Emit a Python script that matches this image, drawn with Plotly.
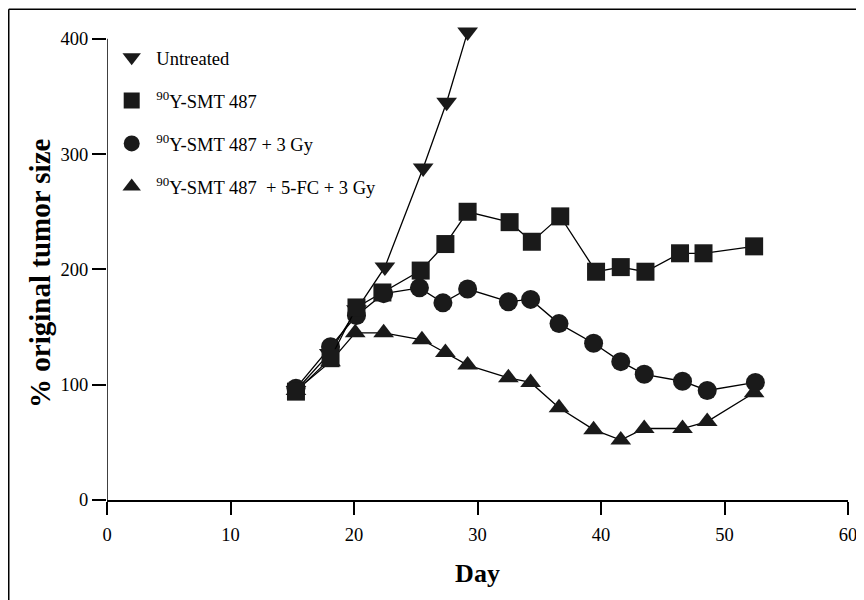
import plotly.graph_objects as go

# Untreated
untreated_day = [15.3, 18.0, 20.2, 22.5, 25.6, 27.5, 29.2]
untreated_val = [95, 127, 165, 202, 288, 345, 406]

# 90Y-SMT 487
smt_day = [15.3, 18.1, 20.2, 22.3, 25.4, 27.4, 29.2, 32.6, 34.4, 36.7, 39.6, 41.6, 43.6, 46.4, 48.3, 52.4]
smt_val = [94, 123, 167, 180, 199, 222, 250, 241, 224, 246, 198, 202, 198, 214, 214, 220]

# 90Y-SMT 487 + 3 Gy
gy_day = [15.3, 18.1, 20.2, 22.4, 25.3, 27.2, 29.2, 32.5, 34.3, 36.6, 39.4, 41.6, 43.5, 46.6, 48.6, 52.5]
gy_val = [97, 133, 160, 179, 184, 171, 183, 172, 174, 153, 136, 120, 109, 103, 95, 102]

# 90Y-SMT 487 + 5-FC + 3 Gy
fc_day = [15.3, 18.1, 20.1, 22.4, 25.5, 27.4, 29.2, 32.5, 34.3, 36.6, 39.4, 41.6, 43.5, 46.6, 48.6, 52.4]
fc_val = [95, 120, 145, 145, 139, 128, 117, 106, 102, 80, 61, 52, 62, 62, 68, 93]

names = ["Untreated", "<sup>90</sup>Y-SMT 487", "<sup>90</sup>Y-SMT 487 + 3 Gy",
         "<sup>90</sup>Y-SMT 487  + 5-FC + 3 Gy"]
symbols = ["triangle-down", "square", "circle", "triangle-up"]
x_ticks = [0, 10, 20, 30, 40, 50, 60]
y_ticks = [0, 100, 200, 300, 400]
x_title = "Day"
y_title = "% original tumor size"

FONT = "Liberation Serif"
MK = "#1a1a1a"
fig = go.Figure()

def add(x, y, symbol, size):
    fig.add_trace(go.Scatter(
        x=x, y=y, mode="lines+markers", showlegend=False,
        line=dict(color="black", width=1.3),
        marker=dict(symbol=symbol, size=size, color=MK, line=dict(width=0)),
        cliponaxis=False))

add(untreated_day, untreated_val, "triangle-down", 18)
add(fc_day, fc_val, "triangle-up", 18)
add(gy_day, gy_val, "circle", 19)
add(smt_day, smt_val, "square", 18)

# legend entries (markers only)
for i, (nm, sym) in enumerate(zip(names, symbols)):
    fig.add_trace(go.Scatter(
        x=[None], y=[None], mode="markers", name=" " + nm, legendgroup=nm, legendrank=i + 1,
        marker=dict(symbol=sym, size=18, color=MK, line=dict(width=0))))

# figure-pixel geometry (page is offset by the 8px body margin)
L, R, T, B = 99, 24, 17.17, 108
PH = 600 - T - B
PW = 864 - L - R

fig.update_layout(
    width=864, height=600,
    margin=dict(l=L, r=R, t=T, b=B),
    paper_bgcolor="white", plot_bgcolor="white",
    font=dict(family=FONT, size=18, color="black"),
    showlegend=True,
    legend=dict(x=(103.7 - L) / PW, y=(492 - 31) / PH, xanchor="left", yanchor="top",
                bgcolor="rgba(0,0,0,0)", tracegroupgap=16,
                font=dict(family=FONT, size=18.5, color="black"),
                itemsizing="trace"),
    xaxis=dict(range=[0, 60], tickvals=x_ticks, showgrid=False, zeroline=False,
               showline=True, linecolor="black", linewidth=1.5,
               ticks="outside", ticklen=13, tickwidth=1.5, tickcolor="black",
               tickfont=dict(family=FONT, size=18.5), ticklabelstandoff=4,
               title=dict(text="<b>" + x_title + "</b>", font=dict(family=FONT, size=26), standoff=20)),
    yaxis=dict(range=[0, 412], tickvals=y_ticks, showgrid=False, zeroline=False,
               showline=False,
               ticks="outside", ticklen=14, tickwidth=1.5, tickcolor="black",
               tickfont=dict(family=FONT, size=18.5), ticklabelstandoff=0),
)

# y-axis title as annotation (centered like the reference)
fig.add_annotation(text="<b>" + y_title + "</b>", textangle=-90, showarrow=False,
                   xref="paper", yref="paper", x=(32 - L) / PW, y=(492 - 266) / PH,
                   xanchor="center", yanchor="middle",
                   font=dict(family=FONT, size=29, color="black"))

# y axis line ending at 400
fig.add_shape(type="line", xref="x", yref="y", x0=0, x1=0, y0=0, y1=400,
              line=dict(color="black", width=1.5))

# image frame (top and left edges)
top_y = (492 - 1.5) / PH
left_x = (0.75 - L) / PW
fig.add_shape(type="line", xref="paper", yref="paper",
              x0=left_x, x1=(864 - L) / PW, y0=top_y, y1=top_y,
              line=dict(color="black", width=1.5))
fig.add_shape(type="line", xref="paper", yref="paper",
              x0=left_x, x1=left_x, y0=top_y, y1=-B / PH,
              line=dict(color="black", width=1.5))

fig.write_html("out.html")
